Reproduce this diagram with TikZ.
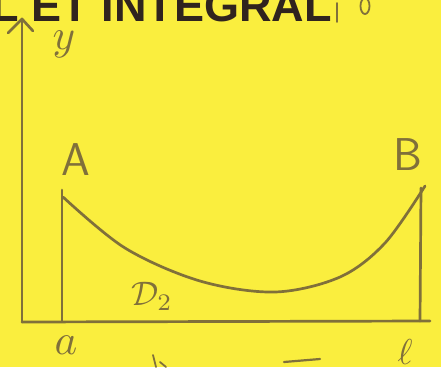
\documentclass[tikz,border=0pt]{standalone}
\usepackage{fontspec}
\newfontfamily\titlefont{Liberation Sans}
\definecolor{paper}{RGB}{250,238,62}
\definecolor{pencil}{RGB}{128,112,58}
\definecolor{ink}{RGB}{48,36,30}
\begin{document}
\begin{tikzpicture}[x=1pt,y=-1pt,
  pen/.style={draw=pencil,line width=2.7pt,line cap=round,line join=round},
  hand/.style={text=pencil,inner sep=0pt},
  title/.style={text=ink,inner sep=0pt,font=\titlefont\bfseries\fontsize{45}{45}\selectfont}]
\useasboundingbox (0,0) rectangle (441,367);
\fill[paper] (0,0) rectangle (441,367);
\begin{scope}
\clip (0,0) rectangle (441,367);
% title
\node[title,anchor=base east] (ttl) at (332,21) {L ET INTEGRAL};
% axes
\coordinate (O) at (22,322);
\coordinate (Ytop) at (22,19);
\coordinate (Xend) at (430,321);
\draw[pen] (O) -- (Ytop);
\draw[pen] (8,33) -- (Ytop) -- (33,31);
\draw[pen] (O) -- (Xend);
% verticals
\coordinate (Abot) at (62,321);
\coordinate (Atop) at (62,190);
\coordinate (Bbot) at (420,321);
\coordinate (Btop) at (421,188);
\draw[pen] (Abot) -- (Atop);
\draw[pen] (Bbot) -- (Btop);
% curve
\draw[pen] plot[smooth,tension=0.55] coordinates {(63,197) (125,248) (200,281) (275,292) (340,277) (385,243) (425,186)};
% labels
\node[hand,font=\sffamily\fontsize{46}{46}\selectfont] (A) at (76,160) {A};
\node[hand,font=\sffamily\fontsize{46}{46}\selectfont] (B) at (408,155) {B};
\node[hand] (D) at (152,296) {\scalebox{3.4}{$\mathcal{D}_2$}};
\node[hand] (a) at (66,345) {\scalebox{4.3}{$a$}};
\node[hand] (b) at (405,352) {\scalebox{3.6}{$\ell$}};
\node[hand] (y) at (64,44) {\scalebox{4.3}{$y$}};
% stray pencil marks
\draw[pen,line width=1.8pt] (337,3) -- (337,22);
\draw[pen,line width=1.8pt] (365,6) ellipse (4.5 and 8);
\draw[pen,line width=1.8pt] (153,355) -- (156,367);
\draw[pen,line width=1.8pt] (160,362) -- (166,367);
\draw[pen,line width=2.2pt] (284,362) -- (320,359);
\end{scope}
\end{tikzpicture}
\end{document}
